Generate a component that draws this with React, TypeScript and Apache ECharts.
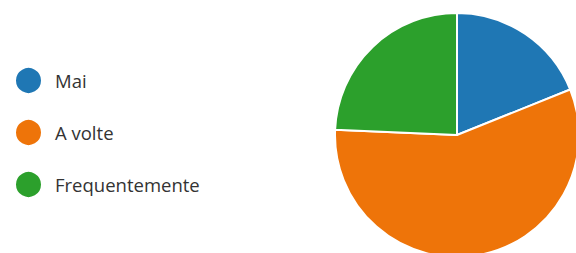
import React, { useEffect, useRef } from "react";
import * as echarts from "echarts";

const categories = ["Mai", "A volte", "Frequentemente"];
const values = [7, 21, 9];
const colors = ["#1f77b4", "#ee7409", "#2ca02c"];

export default function App() {
  const ref = useRef<HTMLDivElement>(null);
  useEffect(() => {
    if (!ref.current) return;
    const chart = echarts.init(ref.current, undefined, { renderer: "svg" });
    chart.setOption({
      animation: false,
      backgroundColor: "#ffffff",
      color: colors,
      legend: {
        orient: "vertical",
        left: 9,
        top: 61,
        icon: "circle",
        itemWidth: 27,
        itemHeight: 27,
        itemGap: 23,
        data: categories,
        textStyle: {
          fontFamily: "Open Sans",
          fontSize: 18.5,
          lineHeight: 27,
          color: "#333333",
          padding: [0, 0, 0, 8],
        },
      },
      series: [
        {
          type: "pie",
          center: [457, 135],
          radius: 122,
          startAngle: 90,
          clockwise: true,
          label: { show: false },
          labelLine: { show: false },
          itemStyle: { borderColor: "#ffffff", borderWidth: 2 },
          data: categories.map((name, i) => ({ name, value: values[i] })),
        },
      ],
    });
    return () => chart.dispose();
  }, []);
  return (
    <div
      ref={ref}
      style={{ position: "fixed", left: 0, top: 0, width: 576, height: 253 }}
    />
  );
}
